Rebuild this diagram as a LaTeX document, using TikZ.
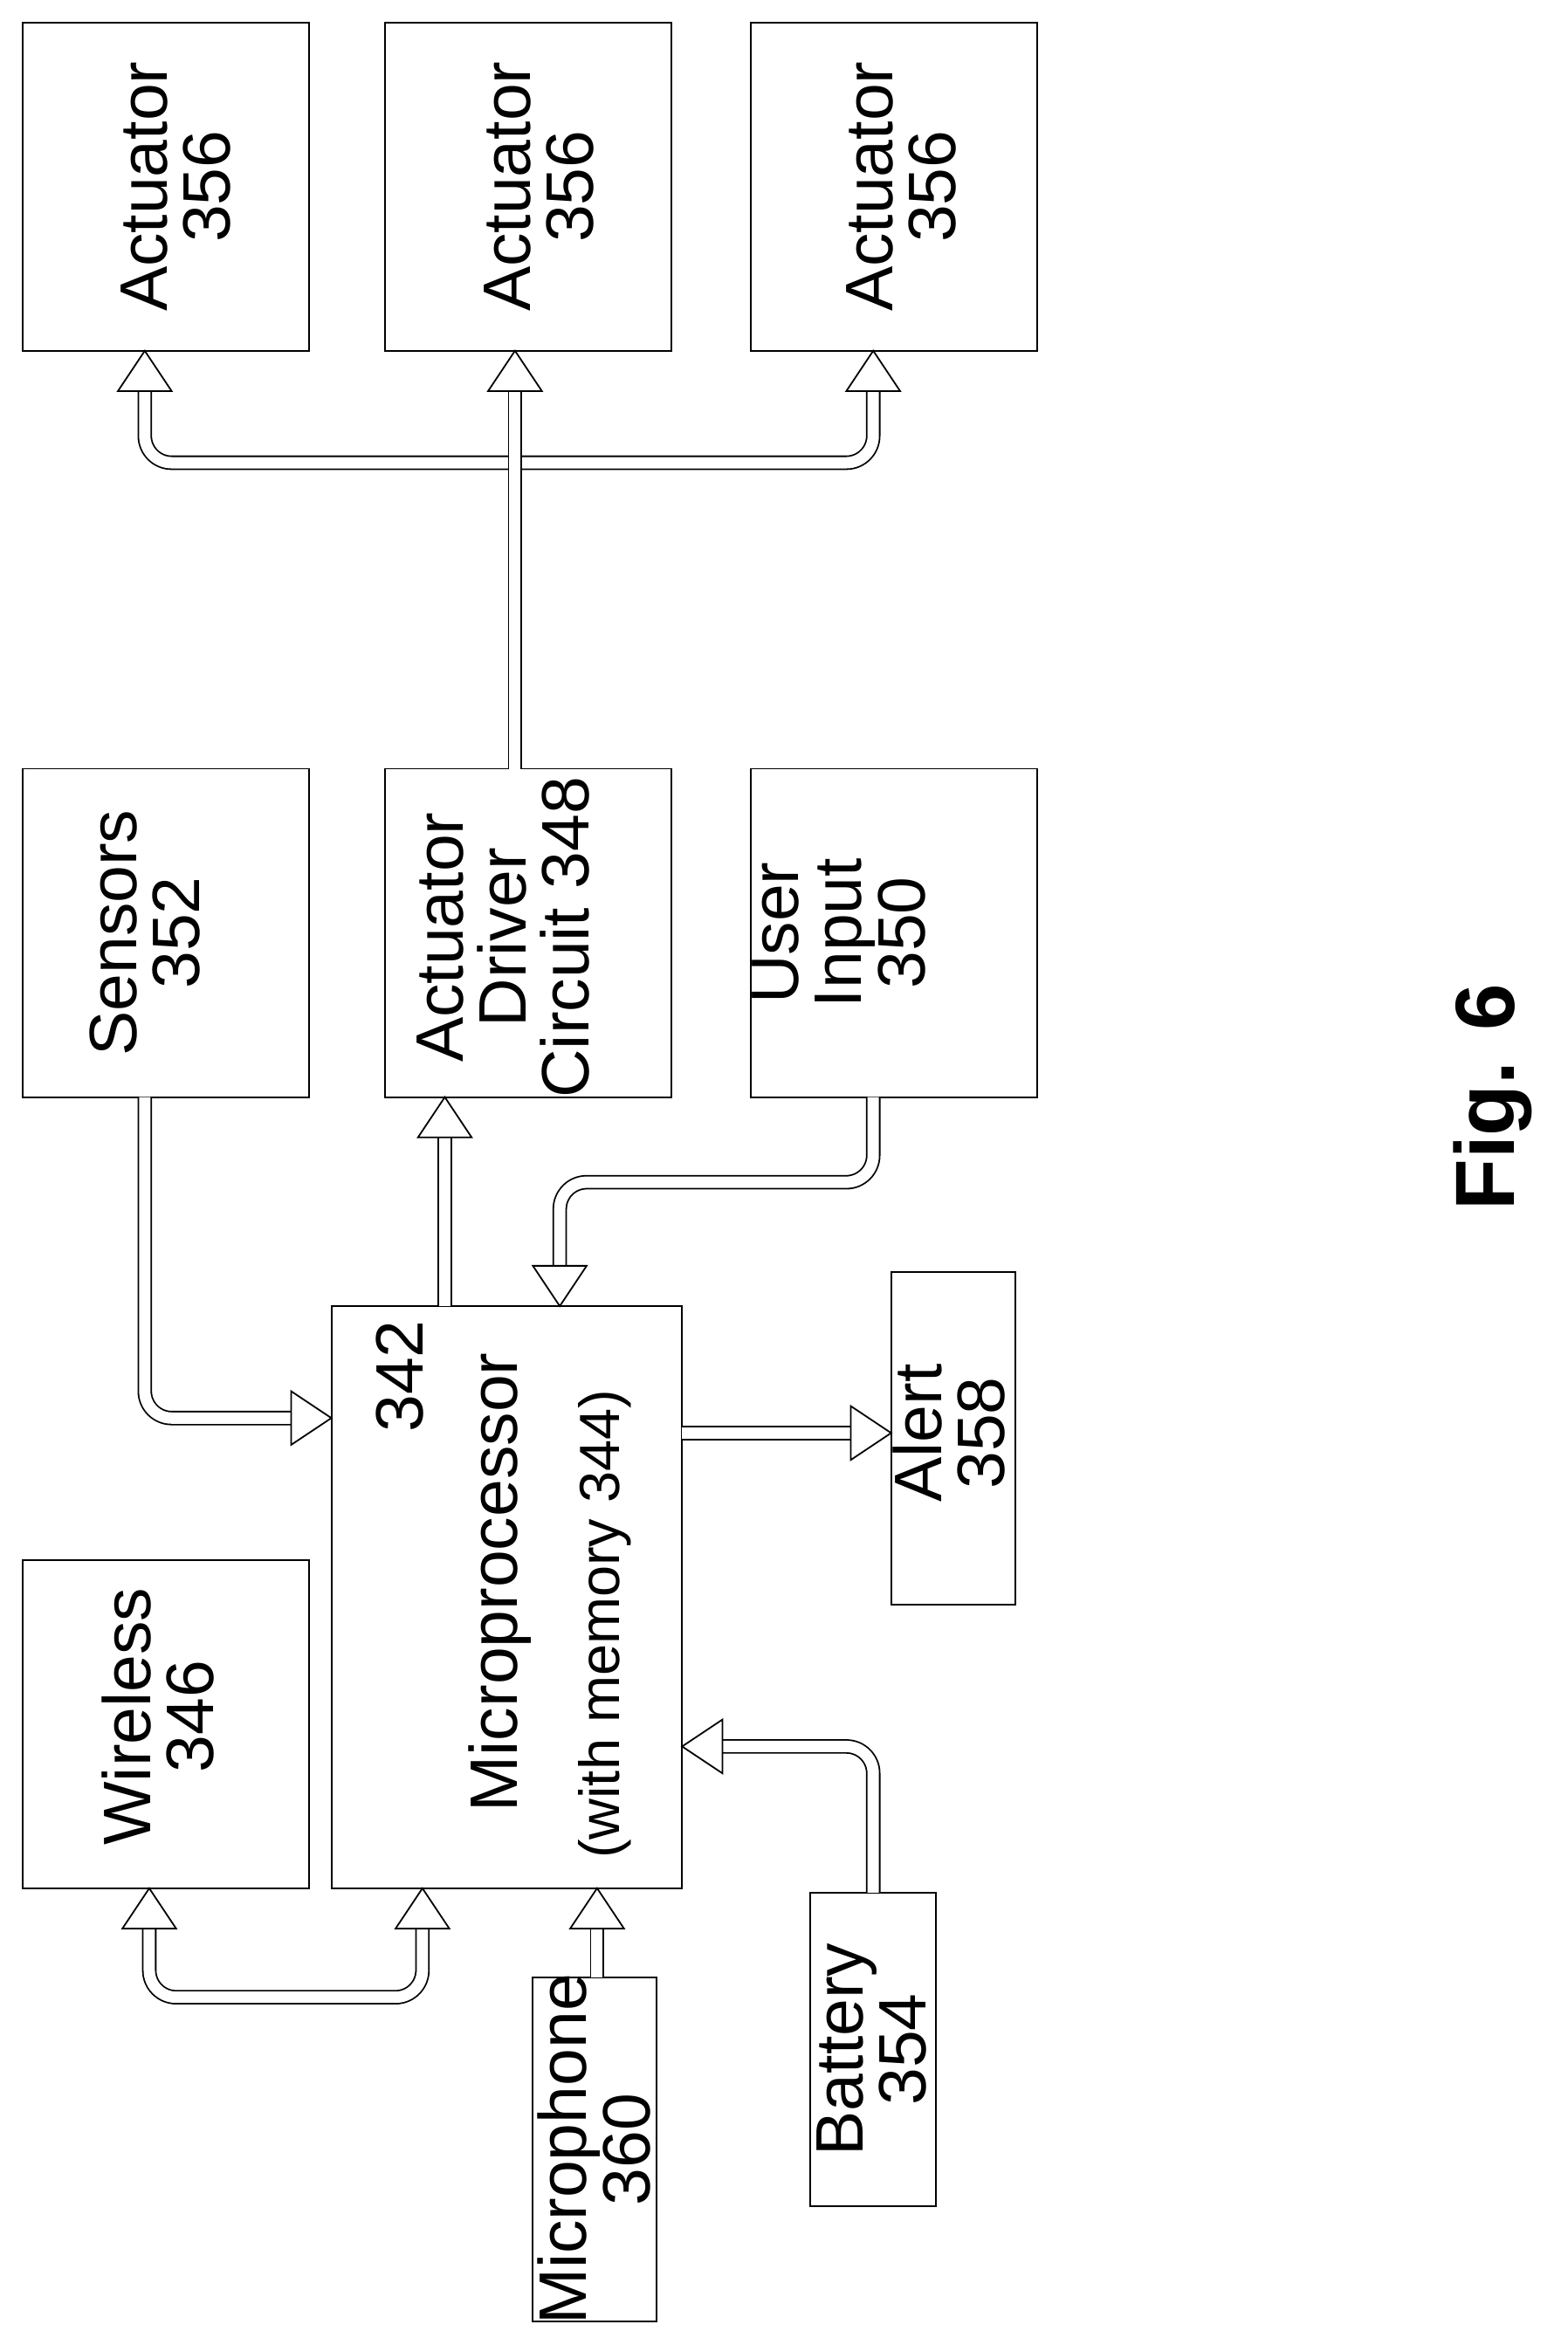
\documentclass[tikz,border=0pt]{standalone}
\usepackage{fontspec}
\setmainfont{Liberation Sans}
\usetikzlibrary{arrows.meta}
\begin{document}
\begin{tikzpicture}[x=0.05cm,y=-0.05cm,
  box/.style={draw,line width=1.6pt},
  lbl/.style={rotate=90,align=center,font=\fontsize{64}{60}\selectfont},
  sml/.style={rotate=90,align=center,font=\fontsize{54}{56}\selectfont},
  dbl/.style={line width=1.5pt,double=white,double distance=0.38cm,rounded corners=0.9cm},
  tip/.style={draw,line width=1.5pt,fill=white}]
\useasboundingbox (0,0) rectangle (1050,1571);
\newcommand\uptip[2]{\draw[tip] (#1-18,#2+27) -- (#1,#2) -- (#1+18,#2+27) -- cycle;}
\newcommand\rttip[2]{\draw[tip] (#1-27,#2-18) -- (#1,#2) -- (#1-27,#2+18) -- cycle;}
\newcommand\lftip[2]{\draw[tip] (#1+27,#2-18) -- (#1,#2) -- (#1+27,#2+18) -- cycle;}
\newcommand\dntip[2]{\draw[tip] (#1-18,#2-27) -- (#1,#2) -- (#1+18,#2-27) -- cycle;}
% boxes
\draw[box] (15,15) rectangle (207,235);
\draw[box] (258,15) rectangle (450,235);
\draw[box] (503,15) rectangle (695,235);
\draw[box] (15,515) rectangle (207,735);
\draw[box] (258,515) rectangle (450,735);
\draw[box] (503,515) rectangle (695,735);
\draw[box] (15,1045) rectangle (207,1265);
\draw[box] (222,875) rectangle (457,1265);
\draw[box] (597,852) rectangle (680,1075);
\draw[box] (357,1325) rectangle (440,1555);
\draw[box] (543,1268) rectangle (627,1478);
% labels
\foreach \x in {118,361,604} \node[lbl] at (\x,125) {Actuator\\356};
\node[lbl] at (97,625) {Sensors\\352};
\node[lbl] at (337,628) {Actuator\\Driver\\Circuit 348};
\node[lbl] at (562,625) {User\\Input\\350};
\node[lbl] at (106,1150) {Wireless\\346};
\node[lbl,anchor=east] at (268,882) {342};
\node[lbl] at (335,1060) {Microprocessor};
\node[sml] at (405,1088) {(with memory 344)};
\node[lbl] at (636,960) {Alert\\358};
\node[lbl] at (398,1440) {Microphone\\360};
\node[lbl] at (584,1373) {Battery\\354};
\node[rotate=90,font=\bfseries\fontsize{80}{82}\selectfont] at (1000,735) {Fig. 6};
% connectors
\draw[dbl] (97,262) -- (97,310) -- (585,310) -- (585,262);
\draw[dbl] (345,515) -- (345,262);
\uptip{97}{235}\uptip{345}{235}\uptip{585}{235}
\draw[dbl] (97,735) -- (97,950) -- (195,950);
\rttip{222}{950}
\draw[dbl] (298,875) -- (298,762);
\uptip{298}{735}
\draw[dbl] (585,735) -- (585,792) -- (375,792) -- (375,848);
\dntip{375}{875}
\draw[dbl] (457,960) -- (570,960);
\rttip{597}{960}
\draw[dbl] (585,1268) -- (585,1170) -- (484,1170);
\lftip{457}{1170}
\draw[dbl] (400,1325) -- (400,1292);
\uptip{400}{1265}
\draw[dbl] (100,1292) -- (100,1338) -- (283,1338) -- (283,1292);
\uptip{100}{1265}\uptip{283}{1265}
\end{tikzpicture}
\end{document}
